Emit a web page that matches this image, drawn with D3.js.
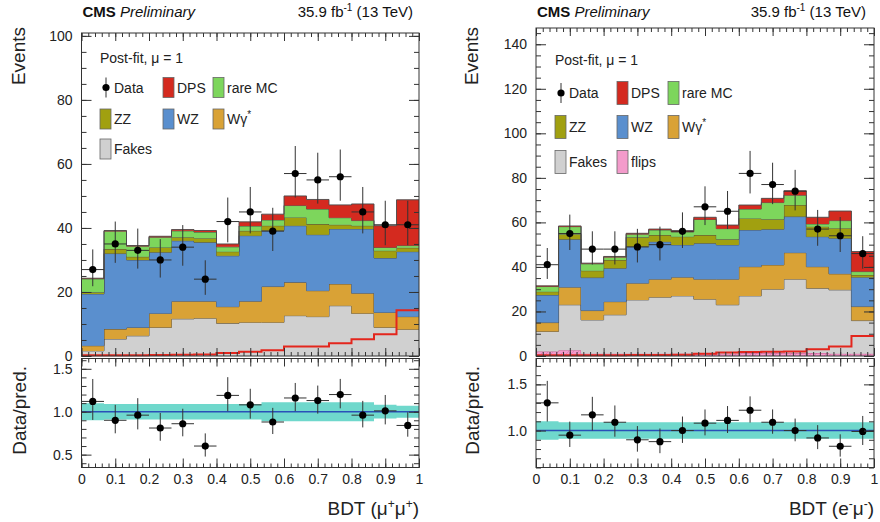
<!DOCTYPE html>
<html>
<head>
<meta charset="utf-8">
<script src="https://cdn.jsdelivr.net/npm/d3@7"></script>
<style>
  body { margin: 0; background: #fff; }
  svg { font-family: 'Liberation Sans', Arial, Helvetica, sans-serif; }
</style>
</head>
<body>
<svg id="chart" width="880" height="522"></svg>
<script>
// 15 BDT bins between 0 and 1
const binEdges = d3.range(16).map(i => i / 15)

// ---- mu+mu+ channel (left) ----
const mmFakes = [1.6, 5.3, 6.3, 8.9, 11.6, 11.8, 10.2, 10.5, 10.5, 12.6, 12.3, 15.7, 13.3, 8.9, 8.3]
const mmWgamma = [1.6, 3.1, 2.6, 4.4, 5.5, 5.3, 5.2, 6.6, 11.2, 10.4, 8.1, 6.8, 6.3, 4.7, 4.0]
const mmWZ = [16.2, 23.6, 21.1, 19.1, 18.9, 18.4, 15.9, 20.5, 17.5, 17.7, 17.5, 17.2, 20.1, 17.0, 20.3]
const mmZZ = [0.5, 1.4, 1.0, 1.5, 1.1, 1.3, 1.3, 1.5, 1.5, 2.6, 3.3, 1.3, 1.0, 2.3, 1.2]
const mmRare = [4.2, 5.6, 3.3, 3.2, 2.0, 1.9, 1.5, 1.5, 1.8, 3.7, 4.7, 2.2, 1.6, 1.0, 0.7]
const mmDPS = [0.2, 0.2, 0.2, 0.3, 0.4, 0.5, 0.9, 1.3, 1.8, 3.0, 3.0, 4.0, 5.2, 6.8, 14.3]
const mmData = [27, 35, 33, 30, 34, 24, 42, 45, 39, 57, 55, 56, 45, 41, 41]
const mmDataErrUp = [6.3, 7.0, 6.8, 6.5, 6.9, 5.9, 7.5, 7.8, 7.3, 8.6, 8.5, 8.5, 7.8, 7.5, 7.5]
const mmDataErrDown = [5.2, 5.9, 5.7, 5.5, 5.8, 4.9, 6.5, 6.7, 6.2, 7.5, 7.4, 7.5, 6.7, 6.4, 6.4]
const mmRatio = [1.12, 0.90, 0.96, 0.81, 0.86, 0.60, 1.19, 1.08, 0.88, 1.16, 1.13, 1.20, 0.96, 1.01, 0.84]
const mmBand = [0.10, 0.09, 0.09, 0.09, 0.09, 0.09, 0.09, 0.09, 0.11, 0.11, 0.11, 0.11, 0.11, 0.08, 0.07]

// ---- e-mu- channel (right) ----
const emFlips = [2.0, 2.6, 1.0, 1.0, 1.0, 1.0, 1.0, 1.0, 1.0, 1.3, 1.3, 1.3, 1.3, 1.0, 1.0]
const emFakes = [9.0, 20.4, 15.2, 17.5, 24.2, 25.4, 26.0, 24.5, 22.0, 25.7, 28.7, 33.2, 29.1, 28.7, 14.9]
const emWgamma = [4.0, 7.9, 4.2, 5.9, 7.5, 8.1, 8.4, 9.0, 11.5, 13.1, 10.9, 11.9, 9.7, 7.2, 6.3]
const emWZ = [12.4, 21.5, 14.8, 15.0, 16.4, 16.8, 14.5, 16.1, 15.4, 16.5, 16.0, 16.2, 13.5, 16.0, 13.2]
const emZZ = [1.5, 2.3, 3.1, 3.7, 4.2, 3.0, 3.7, 3.7, 2.5, 5.2, 4.5, 5.2, 4.5, 4.5, 1.0]
const emRare = [2.3, 3.4, 3.1, 1.3, 1.4, 2.3, 2.1, 7.0, 4.8, 4.2, 7.5, 4.4, 1.2, 3.4, 1.5]
const emDPS = [0.3, 0.3, 0.3, 0.3, 0.4, 0.4, 0.6, 1.0, 1.6, 1.8, 1.9, 2.0, 3.0, 4.3, 9.0]
const emData = [41, 55, 48, 48, 49, 50, 56, 67, 65, 82, 77, 74, 57, 54, 46]
const emDataErrUp = [7.5, 8.5, 8.0, 8.0, 8.1, 8.1, 8.5, 9.2, 9.1, 10.1, 9.8, 9.6, 8.6, 8.4, 7.8]
const emDataErrDown = [6.4, 7.4, 6.9, 6.9, 7.0, 7.1, 7.5, 8.2, 8.0, 9.0, 8.8, 8.6, 7.5, 7.3, 6.8]
const emRatio = [1.30, 0.95, 1.17, 1.09, 0.90, 0.88, 1.00, 1.08, 1.11, 1.22, 1.09, 1.00, 0.92, 0.83, 0.99]
const emBand = [0.10, 0.09, 0.09, 0.09, 0.09, 0.09, 0.09, 0.09, 0.09, 0.09, 0.09, 0.09, 0.09, 0.09, 0.09]

// ticks
const xTickValues = [0, 0.1, 0.2, 0.3, 0.4, 0.5, 0.6, 0.7, 0.8, 0.9, 1]
const xTickLabels = ['0', '0.1', '0.2', '0.3', '0.4', '0.5', '0.6', '0.7', '0.8', '0.9', '1']
const mmYTicks = [0, 20, 40, 60, 80, 100]
const emYTicks = [0, 20, 40, 60, 80, 100, 120, 140]
const mmRatioTicks = [0.5, 1.0, 1.5]
const emRatioTicks = [1.0, 1.5]

const colors = {
  flips: '#f39bcb',
  fakes: '#d0d0d0',
  wgamma: '#d9a236',
  wz: '#5a8fce',
  zz: '#a1a010',
  rare: '#7dd65c',
  dps: '#d42a1f'
}

const svg = d3.select('#chart')

// hatch for the charge flips
const defs = svg.append('defs')
const pat = defs.append('pattern')
  .attr('id', 'flipsHatch')
  .attr('width', 5).attr('height', 5)
  .attr('patternUnits', 'userSpaceOnUse')
pat.append('rect').attr('width', 5).attr('height', 5).attr('fill', colors.flips)
pat.append('path').attr('d', 'M0,5 L5,0').attr('stroke', '#d8649f').attr('stroke-width', 0.5)

function layerFill (key) {
  return key === 'flips' ? 'url(#flipsHatch)' : colors[key]
}

/**
 * Step-shaped points for a per-bin series
 */
function stepPoints (vals) {
  const pts = []
  vals.forEach((v, i) => {
    pts.push({ x: binEdges[i], v: v })
    pts.push({ x: binEdges[i + 1], v: v })
  })
  return pts
}

/**
 * Draws one channel: stacked histogram, data, legend and ratio panel
 */
function drawPanel (cfg) {
  const L = cfg.layout
  const g = svg.append('g')

  const x = d3.scaleLinear().domain([0, 1]).range([L.left, L.right])
  const y = d3.scaleLinear().domain([0, L.yMax]).range([L.mainBottom, L.mainTop])
  const yr = d3.scaleLinear().domain([L.rMin, L.rMax]).range([L.ratioBottom, L.ratioTop])

  // stack
  const rows = binEdges.slice(0, -1).map((e, i) => {
    const row = { i: i }
    cfg.keys.forEach(k => { row[k] = cfg.series[k][i] })
    return row
  })
  const stacked = d3.stack().keys(cfg.keys)(rows)

  const area = d3.area()
    .x(d => x(d.x))
    .y0(d => y(d.lo))
    .y1(d => y(d.hi))
  const line = d3.line()
    .x(d => x(d.x))
    .y(d => y(d.v))

  stacked.forEach(layer => {
    const pts = []
    layer.forEach((d, i) => {
      pts.push({ x: binEdges[i], lo: d[0], hi: d[1] })
      pts.push({ x: binEdges[i + 1], lo: d[0], hi: d[1] })
    })
    g.append('path')
      .attr('d', area(pts))
      .attr('fill', layerFill(layer.key))
    g.append('path')
      .attr('d', line(pts.map(p => ({ x: p.x, v: p.hi }))))
      .attr('fill', 'none')
      .attr('stroke', layer.key === 'flips' ? '#c45a90' : '#4a4a4a')
      .attr('stroke-width', 0.9)
  })

  // DPS signal shape, not stacked
  g.append('path')
    .attr('d', line(stepPoints(cfg.series.dps)))
    .attr('fill', 'none')
    .attr('stroke', '#e3261d')
    .attr('stroke-width', 2)

  // data points
  const bw = binEdges[1] - binEdges[0]
  const pts = g.append('g')
  cfg.data.forEach((d, i) => {
    const cx = x(binEdges[i] + bw / 2)
    pts.append('line')
      .attr('x1', cx).attr('x2', cx)
      .attr('y1', y(d + cfg.errUp[i])).attr('y2', y(d - cfg.errDown[i]))
      .attr('stroke', '#333').attr('stroke-width', 1)
    pts.append('line')
      .attr('x1', x(binEdges[i])).attr('x2', x(binEdges[i + 1]))
      .attr('y1', y(d)).attr('y2', y(d))
      .attr('stroke', '#333').attr('stroke-width', 1)
    pts.append('circle')
      .attr('cx', cx).attr('cy', y(d)).attr('r', 3.6)
      .attr('fill', '#000')
  })

  // ratio panel
  const rArea = d3.area()
    .x(d => x(d.x))
    .y0(d => yr(1 - d.v))
    .y1(d => yr(1 + d.v))
  g.append('path')
    .attr('d', rArea(stepPoints(cfg.band)))
    .attr('fill', '#6fd8cc')
  g.append('line')
    .attr('x1', x(0)).attr('x2', x(1))
    .attr('y1', yr(1)).attr('y2', yr(1))
    .attr('stroke', '#2a50b8').attr('stroke-width', 1.5)

  cfg.ratio.forEach((r, i) => {
    const cx = x(binEdges[i] + bw / 2)
    const up = r * cfg.errUp[i] / cfg.data[i]
    const dn = r * cfg.errDown[i] / cfg.data[i]
    pts.append('line')
      .attr('x1', cx).attr('x2', cx)
      .attr('y1', yr(r + up)).attr('y2', yr(r - dn))
      .attr('stroke', '#333').attr('stroke-width', 1)
    pts.append('line')
      .attr('x1', x(binEdges[i])).attr('x2', x(binEdges[i + 1]))
      .attr('y1', yr(r)).attr('y2', yr(r))
      .attr('stroke', '#333').attr('stroke-width', 1)
    pts.append('circle')
      .attr('cx', cx).attr('cy', yr(r)).attr('r', 3.6)
      .attr('fill', '#000')
  })
  // move data above ratio band
  pts.raise()

  // frames
  g.append('rect')
    .attr('x', L.left).attr('y', L.mainTop)
    .attr('width', L.right - L.left).attr('height', L.mainBottom - L.mainTop)
    .attr('fill', 'none').attr('stroke', '#333').attr('stroke-width', 1)
  g.append('rect')
    .attr('x', L.left).attr('y', L.ratioTop)
    .attr('width', L.right - L.left).attr('height', L.ratioBottom - L.ratioTop)
    .attr('fill', 'none').attr('stroke', '#333').attr('stroke-width', 1)

  // inward ticks on all sides
  const xMinor = d3.range(0, 1.0001, 0.02)
  function ticks (axis, tx, ty, values, size, fmt, pad) {
    const a = axis.tickValues(values).tickSize(-size)
      .tickFormat(fmt || '').tickPadding(pad || 3)
    const sel = g.append('g')
      .attr('transform', 'translate(' + tx + ',' + ty + ')')
      .call(a)
    sel.select('.domain').remove()
    sel.selectAll('line').attr('stroke', '#333')
    sel.selectAll('text')
      .attr('fill', '#222')
      .style('font-size', '14px')
      .style('font-family', "'Liberation Sans', Arial, sans-serif")
    return sel
  }
  ;[[L.mainTop, L.mainBottom], [L.ratioTop, L.ratioBottom]].forEach(([t, b]) => {
    ticks(d3.axisTop(x), 0, t, xMinor, 4)
    ticks(d3.axisTop(x), 0, t, xTickValues, 8)
    ticks(d3.axisBottom(x), 0, b, xMinor, 4)
  })
  ticks(d3.axisBottom(x), 0, L.mainBottom, xTickValues, 8)
  ticks(d3.axisBottom(x), 0, L.ratioBottom, xTickValues, 9, (d, i) => xTickLabels[i], 7)

  const yMinor = d3.range(0, L.yMax, 5)
  ticks(d3.axisLeft(y), L.left, 0, yMinor, 5)
  ticks(d3.axisRight(y), L.right, 0, yMinor, 5)
  ticks(d3.axisLeft(y), L.left, 0, cfg.yTicks, 10, d => d, 9)
  ticks(d3.axisRight(y), L.right, 0, cfg.yTicks, 10)

  const rMinor = d3.range(Math.ceil(L.rMin * 10) / 10, L.rMax, 0.1)
  ticks(d3.axisLeft(yr), L.left, 0, rMinor, 5)
  ticks(d3.axisRight(yr), L.right, 0, rMinor, 5)
  ticks(d3.axisLeft(yr), L.left, 0, cfg.rTicks, 10, d3.format('.1f'), 9)
  ticks(d3.axisRight(yr), L.right, 0, cfg.rTicks, 10)

  // header
  const head = g.append('text')
    .attr('x', L.left + 1).attr('y', 17)
    .style('font-size', '15px').attr('fill', '#111')
  head.append('tspan').style('font-weight', 'bold').text('CMS ')
  head.append('tspan').style('font-style', 'italic').text('Preliminary')
  const lumi = g.append('text')
    .attr('x', L.right - L.lumiInset).attr('y', 17)
    .attr('text-anchor', 'end')
    .style('font-size', '15px').attr('fill', '#111')
  lumi.append('tspan').text('35.9 fb')
  lumi.append('tspan').attr('dy', -6).style('font-size', '10px').text('-1')
  lumi.append('tspan').attr('dy', 6).text(' (13 TeV)')

  // axis titles
  g.append('text')
    .attr('transform', 'translate(' + L.titleX + ',27) rotate(-90)')
    .attr('text-anchor', 'end')
    .style('font-size', '19px').attr('fill', '#222')
    .text('Events')
  g.append('text')
    .attr('transform', 'translate(' + (L.titleX + 1) + ',366) rotate(-90)')
    .attr('text-anchor', 'end')
    .style('font-size', '19px').attr('fill', '#222')
    .text('Data/pred.')
  const xt = g.append('text')
    .attr('x', L.right).attr('y', 515)
    .attr('text-anchor', 'end')
    .style('font-size', '19px').attr('fill', '#222')
  xt.append('tspan').text('BDT (' + cfg.lep[0])
  xt.append('tspan').attr('dy', -7).style('font-size', '12px').text(cfg.lep[1])
  xt.append('tspan').attr('dy', 7).text(cfg.lep[2])
  xt.append('tspan').attr('dy', -7).style('font-size', '12px').text(cfg.lep[3])
  xt.append('tspan').attr('dy', 7).text(')')

  // legend
  const lg = g.append('g').style('font-size', '14px').attr('fill', '#222')
  lg.append('text').attr('x', L.legCols[0]).attr('y', L.legHead).text('Post-fit, \u03bc = 1')
  cfg.legend.forEach(item => {
    const bx = L.legCols[item.col]
    const cy = L.legRows[item.row]
    if (item.key === 'data') {
      lg.append('line')
        .attr('x1', bx + 6).attr('x2', bx + 6)
        .attr('y1', cy - 10).attr('y2', cy + 10)
        .attr('stroke', '#333')
      lg.append('circle').attr('cx', bx + 6).attr('cy', cy).attr('r', 3.6).attr('fill', '#000')
    } else {
      lg.append('rect')
        .attr('x', bx).attr('y', cy - L.boxH / 2)
        .attr('width', 11).attr('height', L.boxH)
        .attr('fill', colors[item.key])
        .attr('stroke', '#666').attr('stroke-width', 0.8)
    }
    const t = lg.append('text').attr('x', bx + 14).attr('y', cy + 5)
    t.append('tspan').text(item.label)
    if (item.sup) {
      t.append('tspan').attr('dy', -6).style('font-size', '10px').text(item.sup)
    }
  })
}

const legendLeft = [
  { key: 'data', label: 'Data', col: 0, row: 0 },
  { key: 'dps', label: 'DPS', col: 1, row: 0 },
  { key: 'rare', label: 'rare MC', col: 2, row: 0 },
  { key: 'zz', label: 'ZZ', col: 0, row: 1 },
  { key: 'wz', label: 'WZ', col: 1, row: 1 },
  { key: 'wgamma', label: 'W\u03b3', sup: '*', col: 2, row: 1 },
  { key: 'fakes', label: 'Fakes', col: 0, row: 2 }
]

drawPanel({
  layout: {
    left: 81.5, right: 419, mainTop: 33, mainBottom: 356, ratioTop: 358.5, ratioBottom: 467.5,
    yMax: 100.9, rMin: 0.35, rMax: 1.62, lumiInset: 6, titleX: 25,
    legCols: [100, 163, 213], legRows: [87.5, 119, 149], legHead: 63, boxH: 20
  },
  keys: ['fakes', 'wgamma', 'wz', 'zz', 'rare', 'dps'],
  series: { fakes: mmFakes, wgamma: mmWgamma, wz: mmWZ, zz: mmZZ, rare: mmRare, dps: mmDPS },
  data: mmData,
  errUp: mmDataErrUp,
  errDown: mmDataErrDown,
  ratio: mmRatio,
  band: mmBand,
  yTicks: mmYTicks,
  rTicks: mmRatioTicks,
  lep: ['\u03bc', '+', '\u03bc', '+'],
  legend: legendLeft
})

drawPanel({
  layout: {
    left: 536, right: 874, mainTop: 28, mainBottom: 356, ratioTop: 358.5, ratioBottom: 467.5,
    yMax: 147.3, rMin: 0.6, rMax: 1.78, lumiInset: 8, titleX: 478,
    legCols: [555, 617, 668], legRows: [93, 127, 162], legHead: 65, boxH: 23
  },
  keys: ['flips', 'fakes', 'wgamma', 'wz', 'zz', 'rare', 'dps'],
  series: { flips: emFlips, fakes: emFakes, wgamma: emWgamma, wz: emWZ, zz: emZZ, rare: emRare, dps: emDPS },
  data: emData,
  errUp: emDataErrUp,
  errDown: emDataErrDown,
  ratio: emRatio,
  band: emBand,
  yTicks: emYTicks,
  rTicks: emRatioTicks,
  lep: ['e', '-', '\u03bc', '-'],
  legend: legendLeft.concat([{ key: 'flips', label: 'flips', col: 1, row: 2 }])
})
</script>
</body>
</html>
